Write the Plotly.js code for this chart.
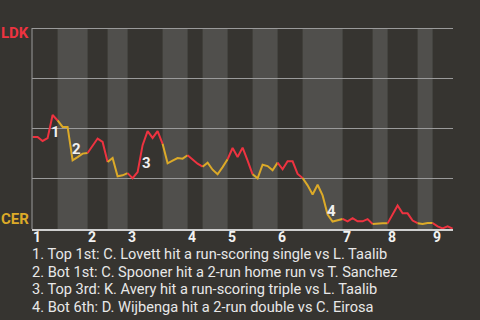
<!DOCTYPE html>
<html>
<head>
<meta charset="utf-8">
<script src="https://cdn.plot.ly/plotly-3.0.1.min.js"></script>
<style>
html,body{margin:0;padding:0;background:#363430;}
#chart{width:480px;height:320px;}
</style>
</head>
<body>
<div id="chart"></div>
<script>
// LDK win probability after each plate appearance (index = plate appearance)
const winProb = [
  0.458, 0.458, 0.438, 0.452, 0.567, 0.540, 0.508, 0.508, 0.342, 0.358,
  0.375, 0.378, 0.417, 0.450, 0.433, 0.333, 0.353, 0.262, 0.267, 0.278,
  0.253, 0.283, 0.417, 0.487, 0.453, 0.487, 0.424, 0.327, 0.340, 0.353,
  0.350, 0.367, 0.345, 0.325, 0.310, 0.330, 0.295, 0.272, 0.308, 0.347,
  0.403, 0.358, 0.405, 0.340, 0.272, 0.252, 0.320, 0.313, 0.292, 0.330,
  0.297, 0.337, 0.337, 0.274, 0.254, 0.217, 0.172, 0.220, 0.167, 0.072,
  0.037, 0.044, 0.050, 0.038, 0.054, 0.038, 0.038, 0.049, 0.025, 0.028,
  0.028, 0.028, 0.072, 0.117, 0.078, 0.078, 0.042, 0.029, 0.025, 0.030,
  0.030, 0.013, 0.003, 0.013, 0.002
];
// plate-appearance index where each half inning starts (last = end of game)
const halfStarts = [0, 5, 11, 15, 19, 26, 31, 34, 39, 44, 49, 54, 62, 68, 71, 77, 80, 84];
const inningLabels = ["1","2","3","4","5","6","7","8","9"];
const teamTop = "LDK";
const teamBottom = "CER";
const eventIdx = [4, 8, 22, 59];
const eventNums = ["1","2","3","4"];
const eventTexts = [
  "1. Top 1st: C. Lovett hit a run-scoring single vs L. Taalib",
  "2. Bot 1st: C. Spooner hit a 2-run home run vs T. Sanchez",
  "3. Top 3rd: K. Avery hit a run-scoring triple vs L. Taalib",
  "4. Bot 6th: D. Wijbenga hit a 2-run double vs C. Eirosa"
];

const RED = "#ee3340";
const YEL = "#dcaa28";
const BG = "#363430";
const BAND = "#504f4c";
const FONT = "Roboto, 'Open Sans', sans-serif";

const traces = [];
const shapes = [];
for (let k = 0; k < halfStarts.length - 1; k++) {
  const a = halfStarts[k], b = halfStarts[k + 1];
  const xs = [], ys = [];
  for (let i = a; i <= b; i++) { xs.push(i); ys.push(winProb[i]); }
  traces.push({
    x: xs, y: ys, type: "scatter", mode: "lines",
    line: {color: k % 2 === 0 ? RED : YEL, width: 2},
    hoverinfo: "skip", showlegend: false
  });
  if (k % 2 === 1) {
    shapes.push({type: "rect", xref: "x", yref: "y", x0: a, x1: b, y0: 0, y1: 1,
      fillcolor: BAND, line: {width: 0}, layer: "below"});
  }
}

const annotations = [];
// inning labels
let inn = 0;
for (let k = 0; k < halfStarts.length - 1; k += 2) {
  annotations.push({x: halfStarts[k], y: 0, xref: "x", yref: "paper",
    text: inningLabels[inn++], showarrow: false, xanchor: "left", yanchor: "top",
    xshift: -1, yshift: 1, borderpad: 0,
    font: {family: FONT, size: 14, color: "#f2f2f2", weight: "bold"}});
}
// event markers
const evShift = [[3, -17], [4, 11], [4, -18], [4, 4]];
eventIdx.forEach((idx, j) => {
  annotations.push({x: idx, y: winProb[idx], xref: "x", yref: "y",
    text: eventNums[j], showarrow: false, xanchor: "center", yanchor: "middle",
    xshift: evShift[j][0], yshift: evShift[j][1],
    font: {family: FONT, size: 15, color: "#f0f0f0", weight: "bold"}});
});
// event descriptions
eventTexts.forEach((t, j) => {
  annotations.push({x: 0, y: 0, xref: "paper", yref: "paper", text: t,
    showarrow: false, xanchor: "left", yanchor: "middle",
    xshift: -1, yshift: -(25 + j * 17.6), borderpad: 0,
    font: {family: FONT, size: 14.6, color: "#e8e8e8"}});
});
// team labels
annotations.push({x: 0, y: 0.965, xref: "paper", yref: "paper", text: teamTop,
  showarrow: false, xanchor: "right", yanchor: "middle", xshift: -1,
  font: {family: FONT, size: 15, color: RED, weight: "bold"}});
annotations.push({x: 0, y: 0.05, xref: "paper", yref: "paper", text: teamBottom,
  showarrow: false, xanchor: "right", yanchor: "middle", xshift: -1,
  font: {family: FONT, size: 15, color: YEL, weight: "bold"}});

const layout = {
  width: 480, height: 320,
  margin: {l: 32, r: 27, t: 26, b: 91, pad: 0},
  paper_bgcolor: BG, plot_bgcolor: BG,
  showlegend: false,
  xaxis: {range: [-0.12, 84.08], showgrid: false, zeroline: false,
    showticklabels: false, ticks: "", showline: true, linecolor: "#cfcfcf", linewidth: 2, fixedrange: true},
  yaxis: {range: [0, 1.01], tick0: 0, dtick: 0.25, showgrid: true, gridcolor: "#9a9a9a", gridwidth: 1,
    zeroline: false, showticklabels: false, ticks: "", showline: false, fixedrange: true},
  shapes: shapes.concat([{type: "line", xref: "paper", yref: "y", x0: 0, x1: 0, y0: 0, y1: 1,
    line: {color: "#9a9a9a", width: 1}, layer: "above"}]),
  annotations: annotations
};

Plotly.newPlot("chart", traces, layout, {staticPlot: true, displayModeBar: false});
</script>
</body>
</html>
